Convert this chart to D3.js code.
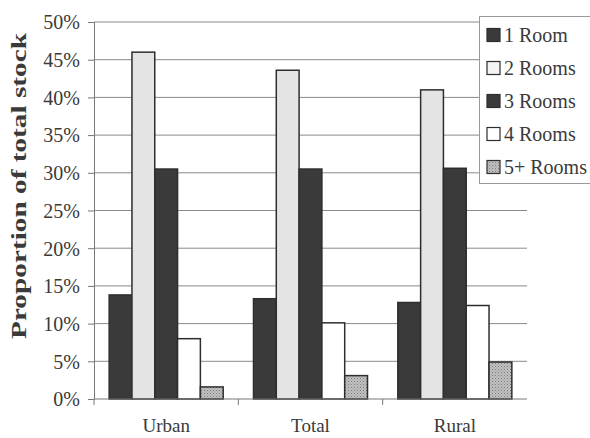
<!DOCTYPE html>
<html><head><meta charset="utf-8">
<script src="https://cdn.jsdelivr.net/npm/d3@7"></script>
<style>body{margin:0;background:#fff}svg{display:block}</style>
</head><body>
<svg id="c" width="590" height="438"></svg>
<script>
const categories = ["Urban", "Total", "Rural"];
const seriesNames = ["1 Room", "2 Rooms", "3 Rooms", "4 Rooms", "5+ Rooms"];
const room1 = [13.8, 13.3, 12.8];
const room2 = [46.0, 43.6, 41.0];
const room3 = [30.5, 30.5, 30.6];
const room4 = [8.0, 10.1, 12.4];
const room5 = [1.6, 3.1, 4.9];
const yTicks = [0, 5, 10, 15, 20, 25, 30, 35, 40, 45, 50];
const yTitle = "Proportion of total stock";

const series = [room1, room2, room3, room4, room5];
const fills = ["#3a3a3a", "#e4e4e4", "#3a3a3a", "#ffffff", "url(#dots)"];

const svg = d3.select("#c");
const defs = svg.append("defs");
const pat = defs.append("pattern").attr("id", "dots").attr("patternUnits", "userSpaceOnUse")
  .attr("width", 3).attr("height", 3);
pat.append("rect").attr("width", 3).attr("height", 3).attr("fill", "#c2c2c2");
pat.append("rect").attr("width", 1).attr("height", 1).attr("fill", "#7a7a7a");
pat.append("rect").attr("x", 1.5).attr("y", 1.5).attr("width", 1).attr("height", 1).attr("fill", "#8a8a8a");

const L = 94, R = 527, T = 22, B = 399;
const x0 = d3.scaleBand().domain(categories).range([L, R]).paddingInner(0.21).paddingOuter(0.105);
const x1 = d3.scaleBand().domain(seriesNames).range([0, x0.bandwidth()]).padding(0);
const y = d3.scaleLinear().domain([0, 50]).range([B, T]);

const font = "'Liberation Serif', 'Times New Roman', serif";
const txt = "#3a3a3a";

// gridlines
svg.append("g").selectAll("line").data(yTicks.filter(d => d > 0)).join("line")
  .attr("x1", L).attr("x2", R).attr("y1", d => y(d)).attr("y2", d => y(d))
  .attr("stroke", "#8a8a8a").attr("stroke-width", 1);

// bars
const g = svg.append("g");
categories.forEach((c, ci) => {
  series.forEach((s, si) => {
    g.append("rect")
      .attr("x", x0(c) + x1(seriesNames[si]))
      .attr("y", y(s[ci]))
      .attr("width", x1.bandwidth())
      .attr("height", y(0) - y(s[ci]))
      .attr("fill", fills[si])
      .attr("stroke", "#2e2e2e").attr("stroke-width", 1.5);
  });
});

// y axis
const yAxis = d3.axisLeft(y).tickValues(yTicks).tickFormat(d => d + "%").tickSize(6).tickPadding(8);
const ya = svg.append("g").attr("transform", `translate(${L},0)`).call(yAxis);
ya.select(".domain").attr("stroke", "#777");
ya.selectAll(".tick line").attr("stroke", "#777");
ya.selectAll("text").attr("font-family", font).attr("font-size", 20).attr("fill", txt).attr("dy", "0.34em");

// x axis
const xa = svg.append("g").attr("transform", `translate(0,${B})`);
xa.append("line").attr("x1", L).attr("x2", R).attr("stroke", "#777");
const bounds = [L, ...categories.map(c => x0(c) + x0.bandwidth() + x0.step() * x0.paddingInner() / 2)].slice(0, 3);
xa.selectAll("line.t").data(bounds).join("line").attr("class", "t")
  .attr("x1", d => d).attr("x2", d => d).attr("y1", 0).attr("y2", 6).attr("stroke", "#777");
xa.selectAll("text").data(categories).join("text")
  .attr("x", d => x0(d) + x0.bandwidth() / 2).attr("y", 33)
  .attr("text-anchor", "middle").attr("font-family", font).attr("font-size", 19).attr("fill", txt)
  .text(d => d);

// y title
svg.append("text").attr("transform", "translate(26,186) rotate(-90)")
  .attr("text-anchor", "middle").attr("font-family", font).attr("font-size", 21)
  .attr("textLength", 306).attr("lengthAdjust", "spacingAndGlyphs")
  .attr("font-weight", "bold").attr("fill", txt).text(yTitle);

// legend
const lg = svg.append("g");
lg.append("rect").attr("x", 479.5).attr("y", 16.5).attr("width", 120).attr("height", 167)
  .attr("fill", "#fff").attr("stroke", "#999");
seriesNames.forEach((n, i) => {
  const cy = 35 + i * 33;
  lg.append("rect").attr("x", 487).attr("y", cy - 6.5).attr("width", 13).attr("height", 13)
    .attr("fill", i === 1 ? "#f4f4f4" : fills[i]).attr("stroke", "#2e2e2e").attr("stroke-width", 1.2);
  lg.append("text").attr("x", 504).attr("y", cy + 6.5).attr("font-family", font)
    .attr("font-size", 20).attr("fill", txt).text(n);
});
</script>
</body></html>
